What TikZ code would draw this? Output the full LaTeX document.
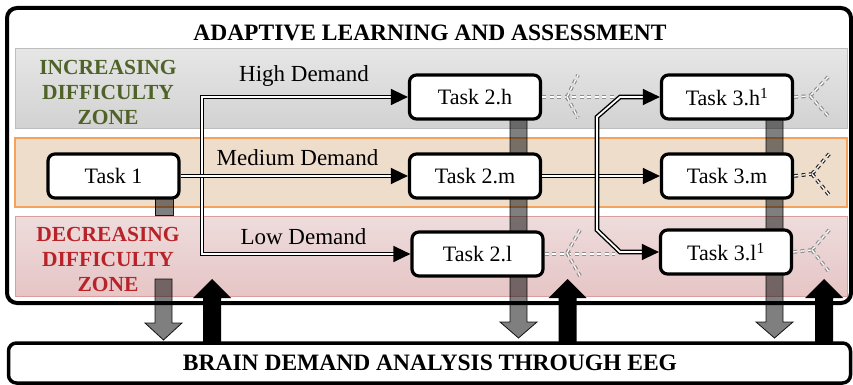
\documentclass[tikz,border=0pt]{standalone}
\usepackage{fontspec}
\setmainfont{Liberation Serif}
\usetikzlibrary{arrows.meta}
\definecolor{zgreen}{HTML}{4F6228}
\definecolor{zred}{HTML}{B8232A}
\definecolor{grayzT}{HTML}{E6E6E6}
\definecolor{grayzB}{HTML}{D2D2D2}
\definecolor{grayzD}{HTML}{BDBDBD}
\definecolor{orzF}{HTML}{EFDDCC}
\definecolor{orzD}{HTML}{F4A25C}
\definecolor{redzT}{HTML}{EEDCDC}
\definecolor{redzB}{HTML}{E6C5C6}
\definecolor{redzD}{HTML}{DA9E9E}
\definecolor{forkgray}{HTML}{8E8E8E}
\newcommand\DownBlk[5]{% x, ytop, ybase, ytip, style
  \filldraw[#5] ({#1-8.5},#2) -- ({#1+8.5},#2) -- ({#1+8.5},#3) -- ({#1+18.5},#3) -- (#1,#4) -- ({#1-18.5},#3) -- ({#1-8.5},#3) -- cycle;}
\newcommand\UpBlk[4]{% x, ybottom, ybase, ytip
  \fill[black] ({#1-9},#2) -- ({#1+9},#2) -- ({#1+9},#3) -- ({#1+19},#3) -- (#1,#4) -- ({#1-19},#3) -- ({#1-9},#3) -- cycle;}
\tikzset{
  bigtri/.tip={Triangle[length=17pt,width=16pt]},
  taskbox/.style={draw=black, line width=3.2pt, rounded corners=7pt, fill=white,
    minimum width=131pt, minimum height=44pt, inner sep=0pt,
    font=\fontsize{22}{26}\selectfont},
  dbl/.style={draw=black, line width=1.4pt, double=white, double distance=1.8pt},
  fork/.style={draw=forkgray, line width=1.2pt, double=white, double distance=1.3pt,
    dash pattern=on 4pt off 3.5pt},
  darkfork/.style={fork, draw=black!85},
  zonelabel/.style={align=center, font=\bfseries\fontsize{21.5}{25}\selectfont, inner sep=0pt},
  demand/.style={font=\fontsize{23}{27}\selectfont, inner sep=0pt},
  heading/.style={font=\bfseries\fontsize{23.5}{27}\selectfont, inner sep=0pt},
  graybar/.style={fill=black, fill opacity=0.5, draw=black, line width=0.8pt, draw opacity=0.9},
}
\begin{document}
\begin{tikzpicture}[x=1pt,y=-1pt]
\useasboundingbox (0,0) rectangle (853,385);
% outer frame
\draw[line width=4pt, rounded corners=10pt, fill=white] (7,8) rectangle (851,303);
% zones
\draw[draw=grayzD, line width=1pt, top color=grayzT, bottom color=grayzB] (15,49) rectangle (847,128);
\draw[draw=orzD, line width=1.2pt, fill=orzF] (15,138) rectangle (847,207);
\draw[draw=redzD, line width=1pt, top color=redzT, bottom color=redzB] (15,216) rectangle (847,296);
% titles
\node[heading] (title) at (430,33) {ADAPTIVE LEARNING AND ASSESSMENT};
\node[zonelabel, text=zgreen] (zinc) at (108,92) {INCREASING\\DIFFICULTY\\ZONE};
\node[zonelabel, text=zred] (zdec) at (108,259) {DECREASING\\DIFFICULTY\\ZONE};
% gray bars (behind task boxes)
\fill[graybar] (155,197) rectangle (173,215);
\DownBlk{163.5}{279}{323}{340}{graybar}
\DownBlk{518.5}{118}{322}{338}{graybar}
\DownBlk{774.5}{118}{322}{338}{graybar}
% demand labels
\node[demand] (lh) at (304,76) {High Demand};
\node[demand] (lm) at (297.5,158) {Medium Demand};
\node[demand] (ll) at (303.5,237) {Low Demand};
% task boxes
\node[taskbox] (t1) at (113.5,176) {Task 1};
\node[taskbox] (t2h) at (475,97) {Task 2.h};
\node[taskbox] (t2m) at (475,176) {Task 2.m};
\node[taskbox] (t2l) at (477.5,254) {Task 2.l};
\node[taskbox] (t3h) at (727,97) {Task 3.h\textsuperscript{1}};
\node[taskbox] (t3m) at (727,176) {Task 3.m};
\node[taskbox] (t3l) at (726,252) {Task 3.l\textsuperscript{1}};
% helper coordinates
\coordinate (jx) at (202,0);
\coordinate (kx) at (620,0);
\coordinate (ka) at (597,117);
\coordinate (kb) at (597,230);
\coordinate (dx) at (615,0);
% double connectors
\draw[dbl, {bigtri}-{bigtri}] (t2h.west) -- (t2h.west -| jx) -- (t2l.west -| jx) -- (t2l.west);
\draw[dbl, -{bigtri}] (t1.east) -- (t2m.west);
\draw[dbl, -{bigtri}] (t2m.east) -- (t3m.west);
\draw[dbl, {bigtri}-{bigtri}] (t3h.west) -- (t3h.west -| kx) -- (ka) -- (kb) -- (t3l.west -| kx) -- (t3l.west);
% dashed forks
\coordinate (f2h) at (567,97);
\coordinate (f2l) at (567,253);
\coordinate (f3h) at (810,96);
\coordinate (f3m) at (812,174);
\coordinate (f3l) at (812,250);
\draw[fork] (t2h.east) -- (t2h.east -| dx);
\draw[fork] (f2h) -- (578,75);
\draw[fork] (f2h) -- (578,118);
\draw[fork] (t2l.east) -- (t2l.east -| dx);
\draw[fork] (f2l) -- (580,230);
\draw[fork] (f2l) -- (580,276);
\draw[fork] (t3h.east) -- (f3h);
\draw[fork] (f3h) -- (830,75);
\draw[fork] (f3h) -- (830,118);
\draw[darkfork] (t3m.east) -- (f3m);
\draw[darkfork] (f3m) -- (830,153);
\draw[darkfork] (f3m) -- (830,196);
\draw[fork] (t3l.east) -- (f3l);
\draw[fork] (f3l) -- (830,229);
\draw[fork] (f3l) -- (830,273);
% bottom box
\node[draw=black, line width=3.5pt, rounded corners=8pt, fill=white, minimum width=842pt, minimum height=40pt, inner sep=0pt] (eeg) at (429.5,363) {};
\node[heading] (eegtxt) at (430,363) {BRAIN DEMAND ANALYSIS THROUGH EEG};
% black up arrows
\UpBlk{212}{342}{298}{279}
\UpBlk{567.5}{342}{298}{279}
\UpBlk{824}{342}{298}{279}
\end{tikzpicture}
\end{document}
